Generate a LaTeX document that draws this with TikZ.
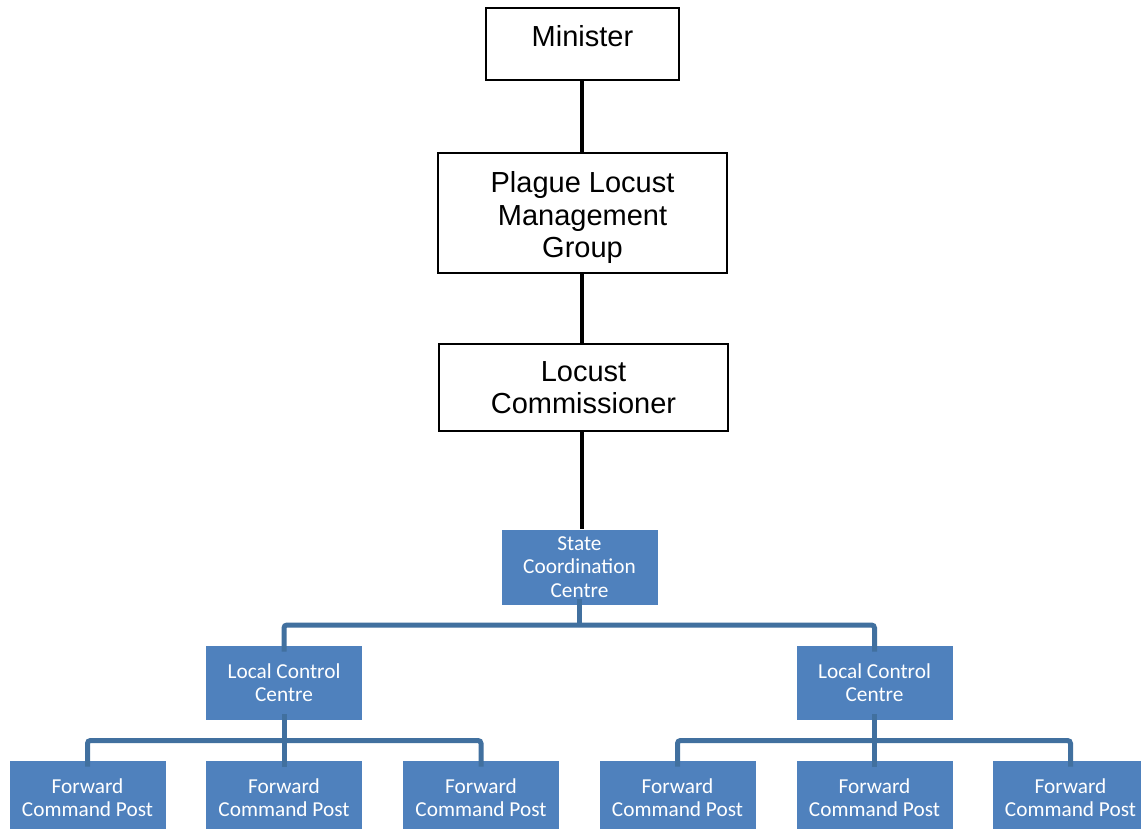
\documentclass[tikz,border=0pt]{standalone}
\usepackage{fontspec}
\setmainfont{Liberation Sans}
\newfontfamily\calfont{Carlito}
\definecolor{boxblue}{HTML}{4F81BD}
\definecolor{lineblue}{HTML}{41709F}
\begin{document}
\begin{tikzpicture}[x=1pt,y=-1pt,
  blackbox/.style={draw=black,line width=1.5pt,fill=white,inner sep=0pt},
  blacktext/.style={inner sep=0pt,align=center,font=\fontsize{29}{32.5}\selectfont},
  bluebox/.style={fill=boxblue,draw=white,line width=0.8pt,inner sep=0pt,align=center,text=white,
    font=\calfont\fontsize{21.3}{23.5}\selectfont,minimum width=157pt},
  blackline/.style={line width=4pt,black},
  blueline/.style={line width=5pt,lineblue,rounded corners=3pt}]
\useasboundingbox (0,0) rectangle (1141,829);
\fill[white] (0,0) rectangle (1141,829);
\node[blackbox,minimum width=193pt,minimum height=72pt] (min) at (582.5,44) {};
\node[blacktext,anchor=base] (mintxt) at (582.5,47) {Minister};
\node[blackbox,minimum width=289pt,minimum height=120pt] (plmg) at (582.5,213) {};
\node[blacktext] (plmgtxt) at (582.5,218) {Plague Locust\\Management\\Group};
\node[blackbox,minimum width=289pt,minimum height=87pt] (lc) at (583.5,387.5) {};
\node[blacktext] (lctxt) at (583.5,387.5) {Locust\\Commissioner};
\node[bluebox,minimum height=76pt] (scc) at (579.5,567) {State\\Coordination\\Centre};
\node[bluebox,minimum height=75pt] (lcc1) at (284,682.5) {Local Control\\Centre};
\node[bluebox,minimum height=75pt] (lcc2) at (874.5,682.5) {Local Control\\Centre};
\node[bluebox,minimum height=75pt] (f1) at (87.5,797.5) {Forward\\Command Post};
\node[bluebox,minimum height=75pt] (f2) at (284,797.5) {Forward\\Command Post};
\node[bluebox,minimum height=75pt] (f3) at (481,797.5) {Forward\\Command Post};
\node[bluebox,minimum height=75pt] (f4) at (677.5,797.5) {Forward\\Command Post};
\node[bluebox,minimum height=75pt] (f5) at (874.5,797.5) {Forward\\Command Post};
\node[bluebox,minimum height=75pt] (f6) at (1070.5,797.5) {Forward\\Command Post};
\draw[blackline] (min.south -| 582,0) -- (plmg.north -| 582,0);
\draw[blackline] (plmg.south -| 582,0) -- (lc.north -| 582,0);
\draw[blackline] (lc.south -| 582,0) -- (scc.north -| 582,0);
% SCC to LCCs
\coordinate (sbar) at (579.5,625);
\draw[blueline] ([yshift=6pt]scc.south) -- (sbar);
\draw[blueline] ([yshift=-7pt]lcc1.north) |- (sbar) -| ([yshift=-7pt]lcc2.north);
% LCC1 to FCPs
\coordinate (bar1) at (284,740.5);
\draw[blueline] ([yshift=6pt]lcc1.south) -- ([yshift=-7pt]f2.north);
\draw[blueline] ([yshift=-7pt]f1.north) |- (bar1) -| ([yshift=-7pt]f3.north);
% LCC2 to FCPs
\coordinate (bar2) at (874.5,740.5);
\draw[blueline] ([yshift=6pt]lcc2.south) -- ([yshift=-7pt]f5.north);
\draw[blueline] ([yshift=-7pt]f4.north) |- (bar2) -| ([yshift=-7pt]f6.north);
\end{tikzpicture}
\end{document}
